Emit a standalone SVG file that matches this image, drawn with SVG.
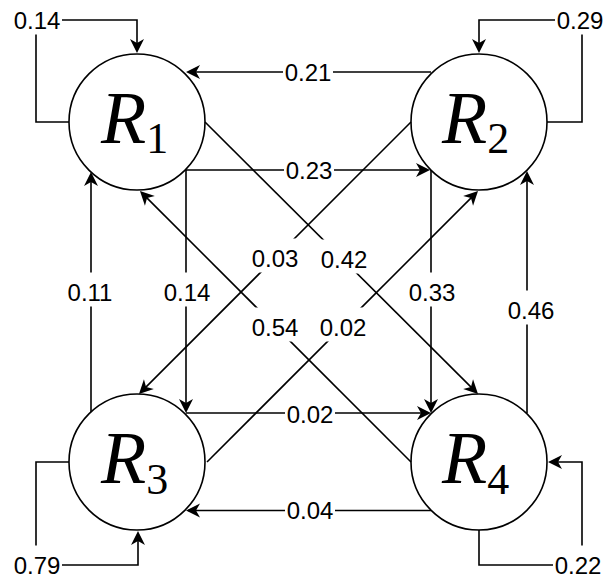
<svg xmlns="http://www.w3.org/2000/svg" width="606" height="578" viewBox="0 0 606 578">
<style>
.node{fill:#fff;stroke:#000;stroke-width:1.6}
.rl{font-family:"Liberation Serif","Times New Roman",serif;font-style:italic;font-size:74px;fill:#000}
.sub{font-style:normal;font-size:44px}
.e{fill:none;stroke:#000;stroke-width:1.6;marker-end:url(#ah)}
.ln{fill:none;stroke:#000;stroke-width:1.6}
.bg{fill:#fff;stroke:none}
.lbl{font-family:"Liberation Sans",Arial,sans-serif;font-size:24px;fill:#000;text-anchor:middle}
</style>
<defs>
<marker id="ah" markerUnits="userSpaceOnUse" markerWidth="18" markerHeight="18" viewBox="-15 -9 18 18" refX="-2" refY="0" orient="auto">
<path d="M0,0 L-14,-7 L-10,0 L-14,7 Z" fill="#000"/>
</marker>
</defs>
<g id="R1"><circle class="node" cx="137" cy="122" r="68"/><text class="rl" x="101" y="143">R<tspan class="sub" y="153">1</tspan></text></g>
<g id="R2"><circle class="node" cx="479" cy="122" r="68"/><text class="rl" x="442" y="143">R<tspan class="sub" y="153">2</tspan></text></g>
<g id="R3"><circle class="node" cx="137" cy="462" r="68"/><text class="rl" x="101" y="483">R<tspan class="sub" y="494">3</tspan></text></g>
<g id="R4"><circle class="node" cx="479" cy="462" r="68"/><text class="rl" x="442" y="483">R<tspan class="sub" y="494">4</tspan></text></g>
<g id="connectors">
<path class="e" d="M69,122 H36 V20 H137 V51"/>
<path class="e" d="M547,122 H582 V20 H479 V51"/>
<path class="e" d="M69,462 H36 V565 H138 V533"/>
<path class="e" d="M479,530 V565 H582 V462 H550"/>
<path class="e" d="M431,72 H188"/>
<path class="e" d="M186,170 H428"/>
<path class="e" d="M186,170 V411"/>
<path class="e" d="M91,412 V174"/>
<path class="e" d="M431,170 V411"/>
<path class="e" d="M527,413 V173"/>
<path class="e" d="M186,413 H429"/>
<path class="e" d="M431,510.5 H188"/>
<path class="e" d="M205,122 L476.6,392.6"/>
<path class="e" d="M411,122 L140.4,392.6"/>
<path class="e" d="M411,462 L141.4,192.4"/>
<path class="e" d="M207,462 L476.6,192.4"/>
<g id="labels">
<rect class="bg" x="12" y="0.5" width="50" height="34"/><text class="lbl" x="37" y="28.6">0.14</text>
<rect class="bg" x="555" y="0.5" width="50" height="34"/><text class="lbl" x="580" y="28.6">0.29</text>
<rect class="bg" x="12" y="545.5" width="50" height="34"/><text class="lbl" x="37" y="573.6">0.79</text>
<rect class="bg" x="553" y="545.5" width="50" height="34"/><text class="lbl" x="578" y="573.6">0.22</text>
<rect class="bg" x="283" y="52.5" width="50" height="34"/><text class="lbl" x="308" y="80.6">0.21</text>
<rect class="bg" x="284" y="150.5" width="50" height="34"/><text class="lbl" x="309" y="178.6">0.23</text>
<rect class="bg" x="285" y="394.5" width="50" height="34"/><text class="lbl" x="310" y="422.6">0.02</text>
<rect class="bg" x="285" y="491" width="50" height="34"/><text class="lbl" x="310" y="519.1">0.04</text>
<rect class="bg" x="65" y="272.5" width="50" height="34"/><text class="lbl" x="90" y="300.6">0.11</text>
<rect class="bg" x="162" y="272.5" width="50" height="34"/><text class="lbl" x="187" y="300.6">0.14</text>
<rect class="bg" x="407" y="272.5" width="50" height="34"/><text class="lbl" x="432" y="300.6">0.33</text>
<rect class="bg" x="506" y="290.5" width="50" height="34"/><text class="lbl" x="531" y="318.6">0.46</text>
<rect class="bg" x="250" y="238.5" width="50" height="34"/><text class="lbl" x="275" y="266.6">0.03</text>
<rect class="bg" x="319" y="239.5" width="50" height="34"/><text class="lbl" x="344" y="267.6">0.42</text>
<rect class="bg" x="250" y="307.5" width="50" height="34"/><text class="lbl" x="275" y="335.6">0.54</text>
<rect class="bg" x="318" y="307.5" width="50" height="34"/><text class="lbl" x="343" y="335.6">0.02</text>
</g>
</g>
</svg>
